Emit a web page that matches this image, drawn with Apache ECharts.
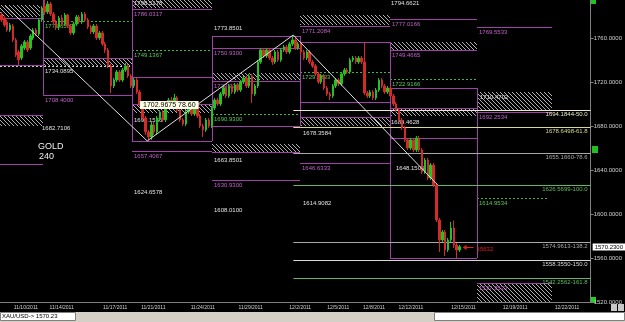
<!DOCTYPE html>
<html><head><meta charset="utf-8">
<script src="https://cdn.jsdelivr.net/npm/echarts@6/dist/echarts.min.js"></script>
<style>html,body{margin:0;padding:0;background:#000;overflow:hidden}#c{width:625px;height:322px}</style>
</head><body><div id="c"></div>
<script>
// ---------- DATA ----------
const dateLabels = ['11/10/2011','11/14/2011','11/17/2011','11/21/2011','11/24/2011','11/29/2011','12/2/2011','12/5/2011','12/8/2011','12/12/2011','12/15/2011','12/19/2011','12/22/2011'];
const dateTickIdx = [8.5,20.9,39.5,52.7,69.9,86.5,103.7,116.9,129.3,142.1,160.4,178.3,196.3];
const priceTicks = [1520,1560,1600,1640,1680,1720,1760];

// 4-hour candles: [open, close, low, high]
const candles = [
[1780.9,1776.4,1774.6,1783.6],[1778.2,1771.8,1770.0,1780.0],[1774.6,1767.3,1765.5,1776.4],[1767.3,1771.8,1765.5,1773.6],
[1770.9,1758.2,1756.4,1772.7],[1758.2,1744.5,1742.7,1760.0],[1747.3,1740.0,1735.5,1749.1],[1741.8,1752.7,1740.0,1754.6],
[1750.9,1756.4,1749.1,1758.2],[1756.4,1749.1,1747.3,1758.2],[1750.9,1761.8,1749.1,1763.6],[1760.0,1767.3,1758.2,1769.1],
[1767.3,1763.6,1761.8,1769.1],[1763.6,1776.4,1761.8,1778.2],[1776.4,1787.3,1774.6,1789.1],
[1789.1,1783.6,1780.9,1794.5],[1783.6,1790.9,1781.8,1793.6],[1790.9,1781.8,1780.0,1792.7],[1781.8,1774.6,1772.7,1783.6],
[1774.6,1770.0,1767.3,1776.4],[1770.0,1778.2,1767.3,1780.0],[1778.2,1772.7,1770.9,1780.9],[1772.7,1780.9,1770.9,1782.7],
[1780.9,1770.9,1769.1,1781.8],[1770.9,1764.6,1762.7,1772.7],[1764.6,1772.7,1762.7,1774.6],[1772.7,1779.1,1770.9,1780.9],
[1779.1,1774.6,1772.7,1780.9],[1774.6,1781.8,1772.7,1783.6],[1781.8,1776.4,1774.6,1783.6],[1776.4,1770.0,1768.2,1778.2],
[1770.0,1765.5,1763.6,1771.8],[1765.5,1770.9,1763.6,1772.7],[1770.9,1760.0,1758.2,1772.7],[1760.0,1764.6,1758.2,1766.4],
[1764.6,1754.6,1752.7,1766.4],[1754.6,1749.1,1746.4,1756.4],[1749.1,1734.5,1732.7,1750.9],[1734.5,1716.4,1710.0,1736.4],
[1716.4,1721.8,1714.5,1723.6],[1721.8,1729.1,1720.0,1730.9],[1729.1,1721.8,1720.0,1730.9],[1721.8,1730.9,1720.0,1732.7],
[1730.9,1734.5,1729.1,1737.3],[1734.5,1725.5,1723.6,1736.4],[1725.5,1716.4,1714.5,1727.3],
[1716.4,1721.8,1714.5,1723.6],[1721.8,1710.9,1709.1,1723.6],[1710.9,1700.0,1698.2,1712.7],[1700.0,1687.3,1685.5,1701.8],
[1687.3,1674.6,1671.8,1689.1],[1674.6,1670.0,1666.4,1676.4],[1670.0,1680.9,1667.3,1683.6],[1680.9,1674.6,1671.8,1683.6],
[1674.6,1687.3,1671.8,1689.1],[1687.3,1692.7,1685.5,1694.5],[1692.7,1685.5,1683.6,1694.5],[1685.5,1698.2,1683.6,1700.0],
[1698.2,1703.6,1696.4,1705.5],[1703.6,1700.0,1698.2,1706.4],[1700.0,1705.5,1698.2,1709.1],[1705.5,1694.5,1692.7,1707.3],
[1694.5,1685.5,1683.6,1696.4],[1685.5,1681.8,1680.0,1687.3],[1681.8,1692.7,1680.0,1694.5],[1692.7,1698.2,1690.9,1700.0],
[1698.2,1690.9,1689.1,1700.0],[1690.9,1700.0,1689.1,1701.8],[1700.0,1689.1,1687.3,1701.8],[1689.1,1680.0,1678.2,1690.9],
[1680.0,1676.4,1670.0,1681.8],[1676.4,1685.5,1674.6,1687.3],[1685.5,1680.0,1678.2,1687.3],[1680.0,1696.4,1678.2,1698.2],
[1696.4,1703.6,1694.5,1705.5],[1703.6,1700.0,1698.2,1705.5],[1700.0,1709.1,1698.2,1710.9],[1709.1,1714.5,1707.3,1716.4],
[1714.5,1707.3,1705.5,1716.4],[1707.3,1716.4,1705.5,1718.2],[1716.4,1710.9,1709.1,1718.2],[1710.9,1717.3,1709.1,1719.1],
[1717.3,1712.7,1710.9,1719.1],[1712.7,1720.0,1710.9,1721.8],[1720.0,1723.6,1718.2,1725.5],[1723.6,1716.4,1714.5,1725.5],
[1716.4,1725.5,1714.5,1727.3],[1725.5,1709.1,1700.9,1727.3],[1709.1,1716.4,1707.3,1718.2],[1716.4,1738.2,1714.5,1740.0],
[1738.2,1749.1,1736.4,1750.9],[1749.1,1743.6,1741.8,1750.9],[1743.6,1749.1,1741.8,1750.9],[1749.1,1741.8,1740.0,1750.9],
[1741.8,1738.2,1735.5,1743.6],[1738.2,1747.3,1736.4,1749.1],[1747.3,1740.0,1738.2,1749.1],[1740.0,1749.1,1738.2,1750.9],
[1749.1,1751.8,1747.3,1753.6],[1751.8,1747.3,1745.5,1753.6],[1747.3,1754.6,1745.5,1756.4],[1754.6,1758.2,1752.7,1762.7],
[1758.2,1750.9,1749.1,1760.0],[1750.9,1754.6,1749.1,1756.4],
[1754.6,1747.3,1745.5,1756.4],[1747.3,1741.8,1740.0,1749.1],[1741.8,1747.3,1740.0,1749.1],[1747.3,1738.2,1736.4,1749.1],
[1738.2,1734.5,1732.7,1740.0],[1734.5,1727.3,1725.5,1736.4],[1727.3,1720.0,1718.2,1729.1],[1720.0,1725.5,1718.2,1727.3],
[1725.5,1714.5,1712.7,1727.3],[1714.5,1709.1,1707.3,1716.4],[1709.1,1707.3,1703.6,1710.9],[1707.3,1716.4,1705.5,1718.2],
[1716.4,1721.8,1714.5,1723.6],[1721.8,1718.2,1716.4,1723.6],[1718.2,1727.3,1716.4,1729.1],[1727.3,1730.9,1725.5,1732.7],
[1730.9,1729.1,1727.3,1732.7],[1729.1,1740.0,1727.3,1741.8],[1740.0,1741.8,1738.2,1743.6],[1741.8,1738.2,1736.4,1743.6],
[1738.2,1741.8,1736.4,1743.6],[1741.8,1738.2,1736.4,1743.6],[1738.2,1710.0,1708.2,1755.5],[1710.0,1707.3,1705.5,1711.8],
[1707.3,1710.9,1705.5,1712.7],[1710.9,1705.5,1703.6,1712.7],[1705.5,1712.7,1703.6,1714.5],[1712.7,1721.8,1710.9,1723.6],
[1721.8,1716.4,1714.5,1723.6],[1716.4,1710.9,1709.1,1718.2],[1710.9,1714.5,1709.1,1716.4],
[1714.5,1707.3,1705.5,1716.4],[1707.3,1700.0,1698.2,1709.1],[1700.0,1694.5,1692.7,1701.8],[1694.5,1685.5,1683.6,1696.4],
[1685.5,1678.2,1676.4,1687.3],[1678.2,1667.3,1665.5,1680.0],[1667.3,1660.0,1658.2,1669.1],[1660.0,1667.3,1658.2,1669.1],
[1667.3,1658.2,1656.4,1669.1],[1658.2,1669.1,1656.4,1670.9],[1669.1,1658.2,1656.4,1670.9],[1658.2,1638.2,1636.4,1660.0],
[1638.2,1649.1,1636.4,1650.9],[1649.1,1632.7,1630.9,1650.9],[1632.7,1644.5,1630.9,1646.4],[1644.5,1626.4,1624.6,1646.4],
[1626.4,1594.5,1592.7,1628.2],[1594.5,1576.4,1565.5,1596.4],[1576.4,1583.6,1574.6,1585.5],[1583.6,1567.3,1561.8,1585.5],
[1567.3,1576.4,1565.5,1578.2],[1576.4,1587.3,1574.6,1592.7],[1587.3,1571.8,1569.1,1594.0],[1571.8,1567.3,1560.0,1573.6],
[1567.3,1570.23,1565.5,1571.8]
];

const zigzag = [[1.2,1789.5],[50.6,1666.4],[101.3,1762.7],[151.4,1626.4]];

// [fromBar, toBar, price, label]
const purpleLevels = [
[-0.5,14.3,1778.2,''],[-0.5,14.3,1735.5,''],[-0.5,14.3,1690.0,''],[-0.5,14.3,1645.5,''],
[14.3,45.4,1741.8,''],[14.3,45.4,1708.4,'1708.4000'],
[45.4,73.0,1786.0317,'1786.0317'],[45.4,73.0,1724.6,''],[45.4,73.0,1700.0,''],[45.4,73.0,1666.3,''],[45.4,73.0,1657.4067,'1657.4067'],
[73.0,103.7,1761.8,''],[73.0,103.7,1750.93,'1750.9300'],[73.0,103.7,1720.93,'1720.9300'],[73.0,103.7,1680.0,''],[73.0,103.7,1656.4,''],[73.0,103.7,1630.93,'1630.9300'],
[103.7,134.8,1771.2084,'1771.2084'],[103.7,134.8,1756.4,''],[103.7,134.8,1702.1,''],[103.7,134.8,1688.2,''],[103.7,134.8,1646.6333,'1646.6333'],
[134.8,165.2,1777.0166,'1777.0166'],[134.8,165.2,1749.4665,'1749.4665'],[134.8,165.2,1714.5,''],[134.8,165.2,1696.4,''],[134.8,165.2,1669.1,''],[134.8,165.2,1560.0,''],
[165.2,191.1,1769.5533,'1769.5533'],[165.2,191.1,1692.2534,'1692.2534'],[165.2,191.1,1537.3,'1537.3523']
];
const greenLevels = [
[14.3,45.4,1775.65,'1775.6500'],[45.4,73.0,1749.1367,'1749.1367'],[73.0,103.7,1690.93,'1690.9300'],
[103.7,134.8,1729.0833,'1729.0833'],[134.8,165.2,1722.9166,'1722.9166'],[165.2,189.3,1614.9534,'1614.9534']
];
const whiteLevels = [[-0.5,45.4,1734.0895,'']];
// [fromBar, toBar, top, bottom]
const hatchZones = [
[-0.5,13.3,1790.0,1779.1],[-0.5,14.3,1689.1,1680.0],[14.3,45.4,1741.8,1734.5],[45.4,73.0,1794.5,1787.3],
[45.4,73.0,1700.0,1691.8],[73.0,103.7,1728.2,1721.8],[73.0,103.7,1663.6,1656.4],[103.7,134.8,1780.9,1771.8],
[103.7,134.8,1687.3,1680.0],[134.8,165.2,1756.4,1749.5],[134.8,165.2,1696.4,1689.1],[165.2,191.1,1710.9,1694.5],
[165.2,191.1,1537.3,1520.0]
];
// [bar, top, bottom]
const boxEdges = [[14.3,1794.5,1708.4],[45.4,1794.5,1666.3],[73.0,1761.8,1666.3],[103.7,1761.8,1680.0],[134.8,1756.4,1560.0],[165.2,1714.5,1560.0]];
// [bar, price, text]
const notes = [
[14.0,1682.7106,'1682.7106'],[15.0,1734.0895,'1734.0895'],[46.1,1690.1556,'1690.1556'],[46.1,1624.6578,'1624.6578'],
[46.1,1796.4,'1798.5178'],[73.7,1773.8501,'1773.8501'],[73.7,1653.6,'1663.8501'],[73.7,1608.01,'1608.0100'],
[104.8,1678.3584,'1678.3584'],[104.8,1614.9082,'1614.9082'],[135.2,1796.4,'1794.6621'],[135.2,1688.2,'1689.4628'],
[137.0,1646.4,'1648.1505'],[166.2,1710.9,'1710.4702']
];
const fibStart = 101.3;
const fibValues = [1694.1844,1678.6498,1655.1660,1626.5699,1574.9613,1558.3550,1542.2562];
const fibLabels = ['1694.1844-50.0','1678.6498-61.8','1655.1660-78.6','1626.5699-100.0','1574.9613-138.2','1558.3550-150.0','1542.2562-161.8'];
const cursorTip = [48.2,1703.6,'1702.9675 78.60'];
const lastPrice = 1570.23;
const lowMark = [159,1569.6,'15632'];

// ---------- STYLE ----------
const FONT = '"Liberation Sans", Arial, sans-serif';
const fibColors = ['#e8e8c8','#d8d890','#a8a8a8','#60b860','#a8a8a8','#d8d8d8','#60b860'];
const PURPLE = '#a040a8', PURPLE_TXT = '#c060c8', GREEN = '#40b840', GREEN_TXT = '#58c858', WHITE = '#e0e0e0';

const hatch = (function(){const c=document.createElement('canvas');c.width=4;c.height=4;const g=c.getContext('2d');g.fillStyle='#b0b0b0';for(let k=0;k<4;k++)g.fillRect(k,k,1,1);return c;})();

function segSeries(list, color, dash, txtColor, z){
  return {type:'custom', z:z, clip:false, silent:true,
    data:list.map(d=>[d[0],d[2]]), encode:{x:0,y:1},
    renderItem:function(params, api){
      const d=list[params.dataIndex];
      const p1=api.coord([d[0],d[2]]), p2=api.coord([d[1],d[2]]);
      const y=Math.round(p1[1])+0.5;
      const ch=[{type:'line',shape:{x1:Math.round(p1[0]),y1:y,x2:Math.round(p2[0]),y2:y},style:{stroke:color,lineWidth:1,lineDash:dash}}];
      if(d[3]) ch.push({type:'text',style:{text:d[3],x:Math.round(p1[0])+2,y:y+1.5,fill:txtColor,font:'6px '+FONT,align:'left',verticalAlign:'top'}});
      return {type:'group',children:ch};
    }};
}

const chart = echarts.init(document.getElementById('c'), null, {renderer:'canvas'});
chart.setOption({
  backgroundColor:'#000',
  animation:false,
  grid:{left:0,right:31,top:0,bottom:20,containLabel:false},
  xAxis:{type:'value',min:-0.5,max:204.5,
    axisLine:{show:true,onZero:false,lineStyle:{color:'#808080'}},axisTick:{show:false},splitLine:{show:false},
    axisLabel:{customValues:dateTickIdx,color:'#d0d0d0',fontSize:5,fontFamily:FONT,margin:3,
      formatter:function(v){let b=-1,bd=1e9;dateTickIdx.forEach((t,i)=>{const dd=Math.abs(t-v);if(dd<bd){bd=dd;b=i;}});return bd<0.5?dateLabels[b]:'';}}},
  yAxis:{type:'value',position:'right',min:priceTicks[0],max:1794.5,interval:40,
    axisLine:{show:true,onZero:false,lineStyle:{color:'#808080'}},axisTick:{show:true,length:3,lineStyle:{color:'#808080'}},splitLine:{show:false},
    axisLabel:{color:'#d0d0d0',fontSize:6,fontFamily:FONT,margin:3,showMaxLabel:false,formatter:v=>v.toFixed(4)}},
  graphic:[
    {type:'text',left:38,top:142,style:{text:'GOLD',fill:'#f0f0f0',font:'9px '+FONT}},
    {type:'text',left:39,top:152,style:{text:'240',fill:'#f0f0f0',font:'9px '+FONT}},
    {type:'rect',shape:{x:0,y:312,width:625,height:10},style:{fill:'#d4d0c8'}},
    {type:'rect',shape:{x:0.5,y:312.5,width:75,height:8},style:{fill:'#fff',stroke:'#808080',lineWidth:1}},
    {type:'text',x:2,y:313,style:{text:'XAU/USD-> 1570.23',fill:'#000',font:'6px '+FONT}},
    {type:'rect',shape:{x:434.5,y:312.5,width:190,height:8},style:{fill:'#fff',stroke:'#808080',lineWidth:1}},
    {type:'rect',shape:{x:591,y:0,width:5,height:4},style:{fill:'#20c020'}},
    {type:'rect',shape:{x:592,y:146,width:6,height:7},style:{fill:'#20c020'}},
    {type:'rect',shape:{x:590,y:297,width:6,height:6},style:{fill:'#20d020'}},
    {type:'rect',shape:{x:611,y:304,width:6,height:7},style:{fill:'#c8c8c8'}},
    {type:'rect',shape:{x:618,y:304,width:6,height:7},style:{fill:'#c8c8c8'}}
  ],
  series:[
    {type:'custom',z:1,clip:true,silent:true,data:hatchZones.map(h=>[h[0],h[2]]),encode:{x:0,y:1},
      renderItem:function(params,api){const h=hatchZones[params.dataIndex];const a=api.coord([h[0],h[2]]),b=api.coord([h[1],h[3]]);
        return {type:'rect',shape:{x:Math.round(a[0]),y:Math.round(a[1]),width:Math.round(b[0])-Math.round(a[0]),height:Math.round(b[1])-Math.round(a[1])},style:{fill:{image:hatch,repeat:'repeat'}}};}},
    {type:'custom',z:2,clip:false,silent:true,data:notes.map(n=>[n[0],n[1]]),encode:{x:0,y:1},
      renderItem:function(params,api){const n=notes[params.dataIndex];const p=api.coord([n[0],n[1]]);
        return {type:'text',style:{text:n[2],x:Math.round(p[0]),y:Math.round(p[1])+2,fill:WHITE,font:'6px '+FONT,align:'left',verticalAlign:'top'}};}},
    segSeries(purpleLevels,PURPLE,null,PURPLE_TXT,3),
    segSeries(greenLevels,GREEN,[2,2],GREEN_TXT,3),
    segSeries(whiteLevels,'#c8c8c8',[2,2],WHITE,3),
    {type:'custom',z:3,clip:false,silent:true,data:boxEdges.map(e=>[e[0],e[1]]),encode:{x:0,y:1},
      renderItem:function(params,api){const e=boxEdges[params.dataIndex];const a=api.coord([e[0],e[1]]),b=api.coord([e[0],e[2]]);const x=Math.round(a[0])+0.5;
        return {type:'line',shape:{x1:x,y1:a[1],x2:x,y2:b[1]},style:{stroke:PURPLE,lineWidth:1}};}},
    {type:'custom',z:3,clip:false,silent:true,data:fibValues.map(v=>[fibStart,v]),encode:{x:0,y:1},
      renderItem:function(params,api){const i=params.dataIndex;const a=api.coord([fibStart,fibValues[i]]),b=api.coord([204.5,fibValues[i]]);const y=Math.round(a[1])+0.5;
        return {type:'group',children:[
          {type:'line',shape:{x1:a[0],y1:y,x2:b[0],y2:y},style:{stroke:fibColors[i],lineWidth:1}},
          {type:'text',style:{text:fibLabels[i],x:b[0]-3,y:y+1,fill:fibColors[i],font:'6px '+FONT,align:'right',verticalAlign:'top'}}]};}},
    {type:'candlestick',z:4,silent:true,barWidth:2,
      data:candles.map((c,i)=>[i,c[0],c[1],c[2],c[3]]),encode:{x:0,y:[1,2,3,4]},
      itemStyle:{color:'#22c422',color0:'#d42a2a',borderColor:'#22c422',borderColor0:'#d42a2a',borderWidth:1}},
    {type:'line',z:5,silent:true,data:zigzag,symbol:'none',lineStyle:{color:'#e0e0e0',width:1}},
    {type:'custom',z:6,clip:false,silent:true,data:[[cursorTip[0],cursorTip[1]]],encode:{x:0,y:1},
      renderItem:function(params,api){const p=api.coord([cursorTip[0],cursorTip[1]]);
        return {type:'text',style:{text:cursorTip[2],x:Math.round(p[0]),y:Math.round(p[1])+1,fill:'#000',backgroundColor:'#ffffe8',padding:[1,3,0,3],font:'7px '+FONT,align:'left',verticalAlign:'top'}};}},
    {type:'custom',z:6,clip:false,silent:true,data:[[lowMark[0],lowMark[1]]],encode:{x:0,y:1},
      renderItem:function(params,api){const p=api.coord([lowMark[0],lowMark[1]]);const x=p[0]+3,y=Math.round(p[1])+0.5;
        return {type:'group',children:[
          {type:'line',shape:{x1:x+2,y1:y,x2:x+11,y2:y},style:{stroke:'#e02020',lineWidth:1}},
          {type:'polygon',shape:{points:[[x,y],[x+4,y-2.5],[x+4,y+2.5]]},style:{fill:'#e02020'}},
          {type:'text',style:{text:lowMark[2],x:x+14,y:y+2,fill:'#e02020',font:'6px '+FONT,align:'left',verticalAlign:'middle'}}]};}},
    {type:'custom',z:6,clip:false,silent:true,data:[[204.5,lastPrice]],encode:{x:0,y:1},
      renderItem:function(params,api){const p=api.coord([204.5,lastPrice]);
        return {type:'text',style:{text:lastPrice.toFixed(4),x:p[0]+2,y:Math.round(p[1]),fill:'#000',backgroundColor:'#ffffff',padding:[1,2,0,2],font:'6px '+FONT,align:'left',verticalAlign:'middle'}};}}
  ]
});
</script></body></html>
